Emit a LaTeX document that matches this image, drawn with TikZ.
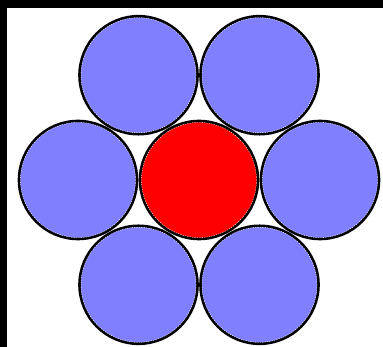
\documentclass[tikz,border=0pt]{standalone}
\usepackage{xcolor}
\usepackage{tikz}

\definecolor{strandblue}{RGB}{128,128,255}
\definecolor{corered}{RGB}{255,0,0}

\tikzset{
    wire/.style={circle, draw=black, line width=2.6pt, minimum size=118pt, inner sep=0pt},
    strand/.style={wire, fill=strandblue},
    corewire/.style={wire, fill=corered},
    seam/.style={white, line width=0.4pt, dash pattern=on 1.2pt off 1.2pt}
}

\begin{document}
\begin{tikzpicture}[x=1pt, y=-1pt]
    % Frame and background
    \fill[white] (0,0) rectangle (383,347);
    \fill[black] (0,0) rectangle (383,8);
    \fill[black] (0,0) rectangle (7,347);
    \useasboundingbox (0,0) rectangle (383,347);

    % Central wire
    \node[corewire] (core) at (199,180) {};
    \draw[seam] (core) circle (57.5);

    % Six outer strands
    \foreach \a in {0,60,...,300} {
        \path (core) ++(\a:121) node[strand] (s\a) {};
        \draw[seam] (s\a) circle (57.5);
    }
\end{tikzpicture}
\end{document}
